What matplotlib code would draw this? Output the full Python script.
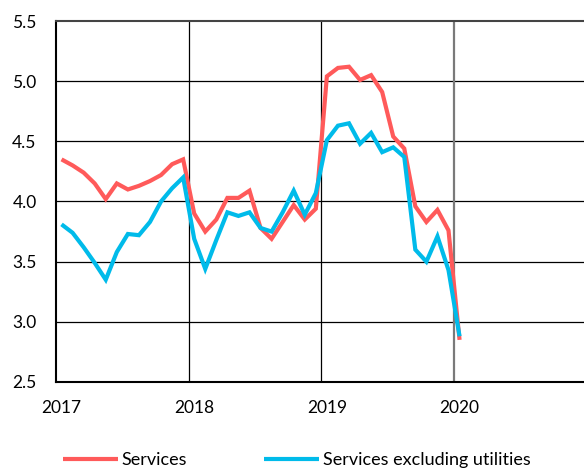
import matplotlib
matplotlib.use("Agg")
import matplotlib.pyplot as plt
import numpy as np

plt.rcParams['font.family'] = ['Lato', 'DejaVu Sans']

# Monthly data, Jan 2017 .. Jan 2020
months = np.arange(37)
services = [4.35, 4.30, 4.24, 4.15, 4.02, 4.15, 4.10, 4.13, 4.17, 4.22, 4.31, 4.35,
            3.90, 3.75, 3.85, 4.03, 4.03, 4.09, 3.78, 3.69, 3.83, 3.97, 3.85, 3.94,
            5.04, 5.11, 5.12, 5.01, 5.05, 4.91, 4.54, 4.44, 3.96, 3.83, 3.93, 3.76,
            2.85]
services_ex_util = [3.81, 3.74, 3.62, 3.49, 3.35, 3.58, 3.73, 3.72, 3.83, 4.00, 4.11, 4.20,
                    3.69, 3.44, 3.68, 3.91, 3.88, 3.91, 3.78, 3.75, 3.91, 4.09, 3.89, 4.07,
                    4.51, 4.63, 4.65, 4.48, 4.57, 4.41, 4.45, 4.37, 3.60, 3.50, 3.71, 3.43,
                    2.88]
series_labels = ["Services", "Services excluding utilities"]
year_labels = ["2017", "2018", "2019", "2020"]
y_ticks = [2.5, 3.0, 3.5, 4.0, 4.5, 5.0, 5.5]

red = "#FF5A5A"
blue = "#00BBEA"

x = 2017 + (months + 0.5) / 12.0

fig = plt.figure(figsize=(5.84, 4.68), dpi=100)
ax = fig.add_axes([56/584, 1 - 382/468, 530.7/584, 361/468])

for yv in [3.0, 3.5, 4.0, 4.5, 5.0]:
    ax.axhline(yv, color="black", lw=0.9, zorder=1)
for xv in [2018, 2019]:
    ax.axvline(xv, color="black", lw=0.9, zorder=1)
ax.axvline(2020, color="#7a7a7a", lw=1.6, zorder=1)

ax.plot(x, services, color=red, lw=3.0, label=series_labels[0], zorder=3,
        solid_joinstyle="miter", solid_capstyle="butt")
ax.plot(x, services_ex_util, color=blue, lw=3.0, label=series_labels[1], zorder=4,
        solid_joinstyle="miter", solid_capstyle="butt")

ax.set_xlim(2017, 2021)
ax.set_ylim(2.5, 5.5)
ax.set_yticks(y_ticks)
ax.set_yticklabels([f"{v:.1f}" for v in y_ticks])
ax.set_xticks([2017 + 0.5/12 + i for i in range(4)])
ax.set_xticklabels(year_labels)
ax.tick_params(axis="both", length=0, labelsize=12.5, colors="black")
ax.tick_params(axis="y", pad=14)
ax.tick_params(axis="x", pad=13)

for s in ["left", "bottom"]:
    ax.spines[s].set_linewidth(1.5)
    ax.spines[s].set_color("black")
ax.spines["top"].set_linewidth(1.5)
ax.spines["top"].set_color("#444444")
ax.spines["right"].set_visible(False)

handles, labels = ax.get_legend_handles_labels()
fig.legend(handles, labels, loc="center left",
           bbox_to_anchor=(63/584, 1 - 460/468), ncol=2, frameon=False,
           borderpad=0, borderaxespad=0, handlelength=3.05, handletextpad=0.2,
           columnspacing=4.25, fontsize=13)

fig.savefig("out.png", dpi=100)
